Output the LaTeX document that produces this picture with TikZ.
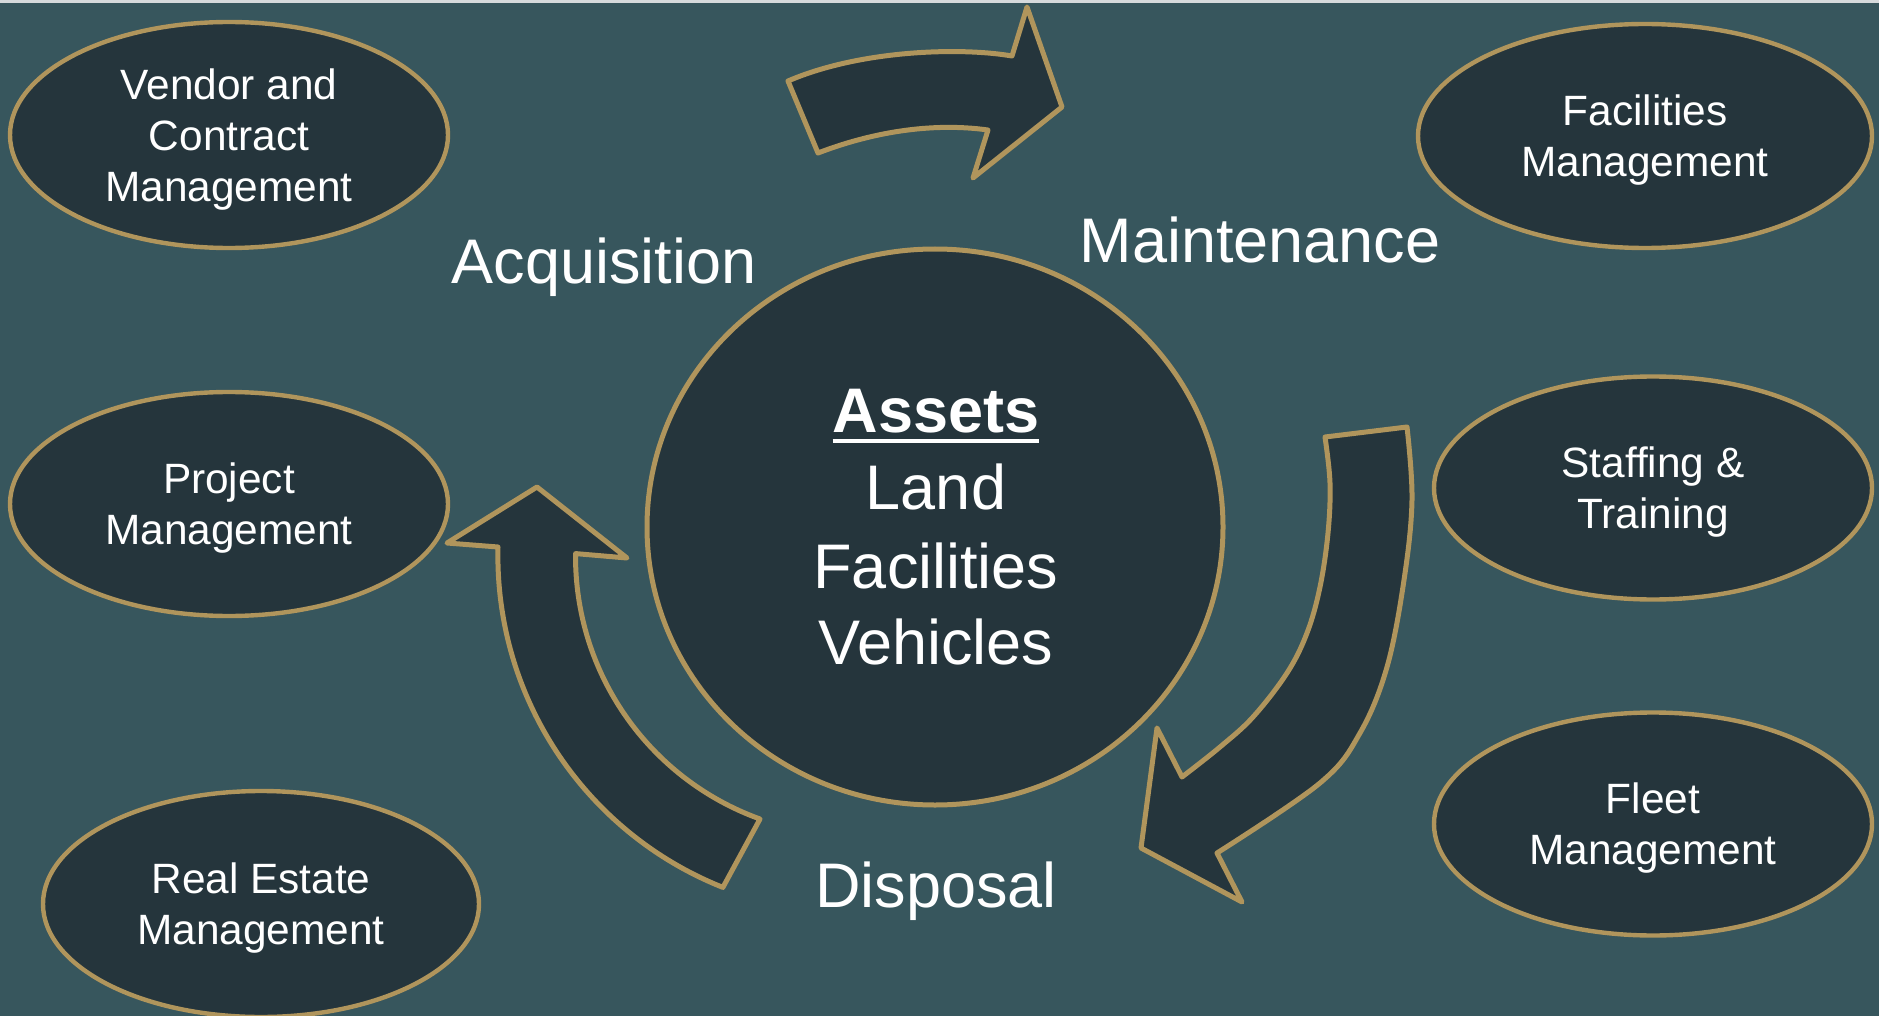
\documentclass[tikz,border=0pt]{standalone}
\usepackage{fontspec}
\setmainfont{Liberation Sans}
\usetikzlibrary{shapes.geometric}
\definecolor{bg}{RGB}{55,86,93}
\definecolor{dk}{RGB}{37,53,60}
\definecolor{gold}{RGB}{176,149,92}
\definecolor{topline}{RGB}{214,218,220}
\newcommand\myul[1]{\setbox0\hbox{#1}\rlap{\rule[-5.5pt]{\wd0}{2.2pt}}\box0}
\begin{document}
\begin{tikzpicture}[x=0.5pt,y=-0.5pt,
  blob/.style={ellipse, draw=gold, line width=2.2pt, fill=dk, inner sep=0pt, text=white, align=center, text depth=-1pt, font=\fontsize{21.2}{25.5}\selectfont},
  bigtxt/.style={text=white, font=\fontsize{31.5}{38}\selectfont, inner sep=0pt, anchor=base},
  cyclearrow/.style={draw=gold, line width=2.5pt, fill=dk, line join=round}]
\fill[bg] (0,0) rectangle (1879,1016);
\fill[topline] (0,0) rectangle (1879,3);
\useasboundingbox (0,0) rectangle (1879,1016);

% top arrow (Acquisition -> Maintenance)
\path[cyclearrow] (788,81) -- (818,153) .. controls (870,133) and (930,122) .. (988,130)
  -- (973,178) -- (1062,107) -- (1027,7) -- (1012,56)
  .. controls (960,47) and (860,50) .. (788,81) -- cycle;

% right arrow (Maintenance -> Disposal)
\path[cyclearrow] (1325,437) -- (1407,427)
  -- plot[smooth, tension=0.6] coordinates {(1407,427) (1412,500) (1404,580) (1387,667) (1360,733) (1320,783) (1217,853)}
  -- (1242,902) -- (1141,848) -- (1157,728) -- (1182,777)
  -- plot[smooth, tension=0.6] coordinates {(1182,777) (1220,747) (1253,717) (1287,673) (1307,633) (1320,587) (1328,533) (1330,483) (1325,437)}
  -- cycle;

% left arrow (Disposal -> Acquisition), concentric arcs about (855,556)
\path[cyclearrow] (537,487) -- (447,543) -- (498,547)
  arc[start angle=181.4, end angle=111.7, radius=357]
  -- (760,819)
  arc[start angle=109.8, end angle=180.6, radius=279]
  -- (627,558) -- cycle;

% central circle
\node[ellipse, draw=gold, fill=dk, line width=2.5pt, inner sep=0pt, minimum width=288pt, minimum height=278pt] (hub) at (935,527) {};
\node[bigtxt, font=\bfseries\fontsize{31.5}{38}\selectfont] (assets) at (936,432) {\myul{Assets}};
\node[bigtxt] (land) at (936,509) {Land};
\node[bigtxt] (facil) at (936,588) {Facilities};
\node[bigtxt] (vehic) at (936,664) {Vehicles};

% phase labels
\node[bigtxt] (acq) at (604,284) {Acquisition};
\node[bigtxt] (maint) at (1260,263) {Maintenance};
\node[bigtxt] (disp) at (936,907) {Disposal};

% side ellipses
\node[blob, minimum width=219pt, minimum height=113pt] (vendor) at (229,135) {Vendor and\\Contract\\Management};
\node[blob, minimum width=219pt, minimum height=112pt] (project) at (229,504) {Project\\Management};
\node[blob, minimum width=218pt, minimum height=113pt] (realest) at (261,904) {Real Estate\\Management};
\node[blob, minimum width=227pt, minimum height=112pt] (facmgmt) at (1645,136) {Facilities\\Management};
\node[blob, minimum width=219pt, minimum height=111.5pt] (staff) at (1653,488) {Staffing \&\\Training};
\node[blob, minimum width=219pt, minimum height=111.5pt] (fleet) at (1653,824) {Fleet\\Management};
\end{tikzpicture}
\end{document}
